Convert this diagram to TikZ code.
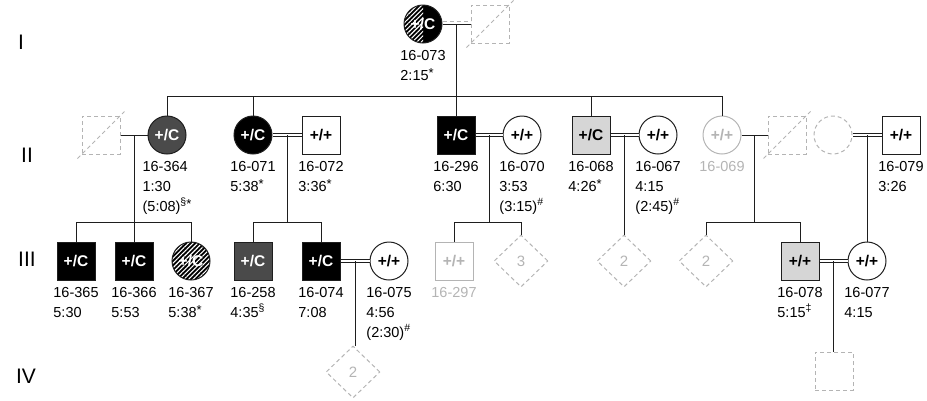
\documentclass[tikz,border=0pt]{standalone}
\usepackage{fontspec}
\setmainfont{Liberation Sans}
\usetikzlibrary{shapes.geometric,positioning,calc,patterns.meta}
\definecolor{ink}{HTML}{1E1E1E}
\definecolor{hetdark}{HTML}{4A4A4A}
\definecolor{hetlight}{HTML}{D6D6D6}
\definecolor{ghostgray}{HTML}{B4B4B4}
\newcommand\fnmark[1]{\raisebox{0.8ex}{\fontsize{10.5}{10}\selectfont #1}}
\newcommand\fnstar{\raisebox{0.35ex}{\fontsize{13}{10}\selectfont *}}

\begin{document}
\begin{tikzpicture}[
  x=1pt, y=-1pt,
  font=\fontsize{14.5}{20}\selectfont,
  sym/.style={draw=ink, line width=1pt, minimum size=38pt, inner sep=0pt,
              font=\fontsize{15.5}{16}\selectfont\bfseries},
  male/.style={sym, rectangle},
  female/.style={sym, circle},
  aff/.style={fill=#1, text=white},
  faint/.style={draw=ghostgray, text=ghostgray},
  ghost/.style={draw=ghostgray, line width=1pt, dash pattern=on 4pt off 3pt},
  multi/.style={diamond, ghost, minimum width=54pt, minimum height=52pt,
                inner sep=0pt, text=ghostgray, font=\fontsize{15}{16}\selectfont},
  hatch/.style={path picture={\fill[pattern={Lines[angle=45,distance=3.2pt,line width=1.1pt]},
                pattern color=white] (path picture bounding box.south west)
                rectangle (path picture bounding box.#1);}},
  lab/.style={below=6.5pt of #1, align=left, inner sep=0pt},
  gen/.style={font=\fontsize{21}{24}\selectfont},
  rel/.style={draw=ink, line width=1pt},
  cons/.style={draw=ink, line width=0.8pt, double, double distance=1.6pt}
]
\useasboundingbox (0,0) rectangle (927,400);

% ---- generation numbers ----
\node[gen] (gI)   at (21,42)  {I};
\node[gen] (gII)  at (27,155) {II};
\node[gen] (gIII) at (27,259) {III};
\node[gen] (gIV)  at (26,376) {IV};

% ---- generation I ----
\node[female, aff=black, hatch=north] (c073) at (423,24) {+/C};
\node[male, ghost] (f073) at (490,24) {};
\node[lab=c073] (t073) {16-073\\2:15\fnstar};

% ---- generation II ----
\node[male, ghost] (m364) at (101,135) {};
\node[female, aff=hetdark] (c364) at (167,135) {+/C};
\node[female, aff=black] (c071) at (253,135) {+/C};
\node[male] (c072) at (321,135) {+/+};
\node[male, aff=black] (c296) at (456,135) {+/C};
\node[female] (c070) at (522,135) {+/+};
\node[male, fill=hetlight] (c068) at (591,135) {+/C};
\node[female] (c067) at (658,135) {+/+};
\node[female, faint] (c069) at (722,135) {+/+};
\node[male, ghost] (m069) at (787,135) {};
\node[female, ghost] (f079) at (833,135) {};
\node[male] (c079) at (901,135) {+/+};

\node[lab=c364] (t364) {16-364\\1:30\\(5:08)\fnmark{\S}\fnstar};
\node[lab=c071] (t071) {16-071\\5:38\fnstar};
\node[lab=c072] (t072) {16-072\\3:36\fnstar};
\node[lab=c296] (t296) {16-296\\6:30};
\node[lab=c070] (t070) {16-070\\3:53\\(3:15)\fnmark{\#}};
\node[lab=c068] (t068) {16-068\\4:26\fnstar};
\node[lab=c067] (t067) {16-067\\4:15\\(2:45)\fnmark{\#}};
\node[lab=c069, text=ghostgray] (t069) {16-069};
\node[lab=c079] (t079) {16-079\\3:26};

% ---- generation III ----
\node[male, aff=black] (c365) at (76,261) {+/C};
\node[male, aff=black] (c366) at (134,261) {+/C};
\node[female, aff=black, hatch=north east] (c367) at (191,261) {+/C};
\node[male, aff=hetdark] (c258) at (253,261) {+/C};
\node[male, aff=black] (c074) at (321,261) {+/C};
\node[female] (c075) at (389,261) {+/+};
\node[male, faint] (c297) at (454,261) {+/+};
\node[multi] (d3) at (521,261) {3};
\node[multi] (d2a) at (624,261) {2};
\node[multi] (d2b) at (706,261) {2};
\node[male, fill=hetlight] (c078) at (800,261) {+/+};
\node[female] (c077) at (867,261) {+/+};

\node[lab=c365] (t365) {16-365\\5:30};
\node[lab=c366] (t366) {16-366\\5:53};
\node[lab=c367] (t367) {16-367\\5:38\fnstar};
\node[lab=c258] (t258) {16-258\\4:35\fnmark{\S}};
\node[lab=c074] (t074) {16-074\\7:08};
\node[lab=c075] (t075) {16-075\\4:56\\(2:30)\fnmark{\#}};
\node[lab=c297, text=ghostgray] (t297) {16-297};
\node[lab=c078] (t078) {16-078\\5:15\fnmark{\ddag}};
\node[lab=c077] (t077) {16-077\\4:15};

% ---- generation IV ----
\node[multi] (d2c) at (353,372) {2};
\node[male, ghost] (s4) at (834,371) {};

% deceased strokes
\foreach \k in {f073,m364,m069}
  \draw[ghost] ([shift={(-4pt,-4pt)}]\k.south west) -- ([shift={(4pt,4pt)}]\k.north east);

% couples
\draw[rel] (c073.east) -- (f073.west);
\draw[ghost] ([yshift=2.6pt]c073.east) -- ([yshift=2.6pt]f073.west);
\draw[rel] (m364.east) -- (c364.west);
\draw[cons] (c071.east) -- (c072.west);
\draw[cons] (c296.east) -- (c070.west);
\draw[cons] (c068.east) -- (c067.west);
\draw[rel] (c069.east) -- (m069.west);
\draw[cons] (f079.east) -- (c079.west);
\draw[cons] (c074.east) -- (c075.west);
\draw[cons] (c078.east) -- (c077.west);

\coordinate (mI) at ($(c073.east)!.5!(f073.west)$);
\coordinate (mA) at ($(m364.east)!.5!(c364.west)$);
\coordinate (mB) at ($(c071.east)!.5!(c072.west)$);
\coordinate (mC) at ($(c296.east)!.5!(c070.west)$);
\coordinate (mD) at ($(c068.east)!.5!(c067.west)$);
\coordinate (mE) at ($(c069.east)!.5!(m069.west)$);
\coordinate (mF) at ($(f079.east)!.5!(c079.west)$);
\coordinate (mG) at ($(c074.east)!.5!(c075.west)$);
\coordinate (mH) at ($(c078.east)!.5!(c077.west)$);

% sibships
\coordinate (sII) at (0,96);
\coordinate (sIII) at (0,222);
\draw[rel] (mI) -- (mI |- c296.north);
\draw[rel] (c364.north) -- (c364.north |- sII) -- (c069.north |- sII) -- (c069.north);
\foreach \k in {c071,c068}
  \draw[rel] (\k.north) -- (\k.north |- sII);

\draw[rel] (mA) -- (mA |- c366.north);
\draw[rel] (c365.north) -- (c365.north |- sIII) -- (c367.north |- sIII) -- (c367.north);
\draw[rel] (mB) -- (mB |- sIII);
\draw[rel] (c258.north) -- (c258.north |- sIII) -- (c074.north |- sIII) -- (c074.north);
\draw[rel] (mC) -- (mC |- sIII);
\draw[rel] (c297.north) -- (c297.north |- sIII) -- (d3.north |- sIII) -- (d3.north);
\draw[rel] (mD) -- (mD |- d2a.north);
\draw[rel] (mE) -- (mE |- sIII);
\draw[rel] (d2b.north) -- (d2b.north |- sIII) -- (c078.north |- sIII) -- (c078.north);
\draw[rel] (mF) -- (mF |- c077.north);

\draw[rel] (mG) -- (mG |- d2c.north);
\draw[rel] (mH) -- (mH |- s4.north);
\end{tikzpicture}
\end{document}
